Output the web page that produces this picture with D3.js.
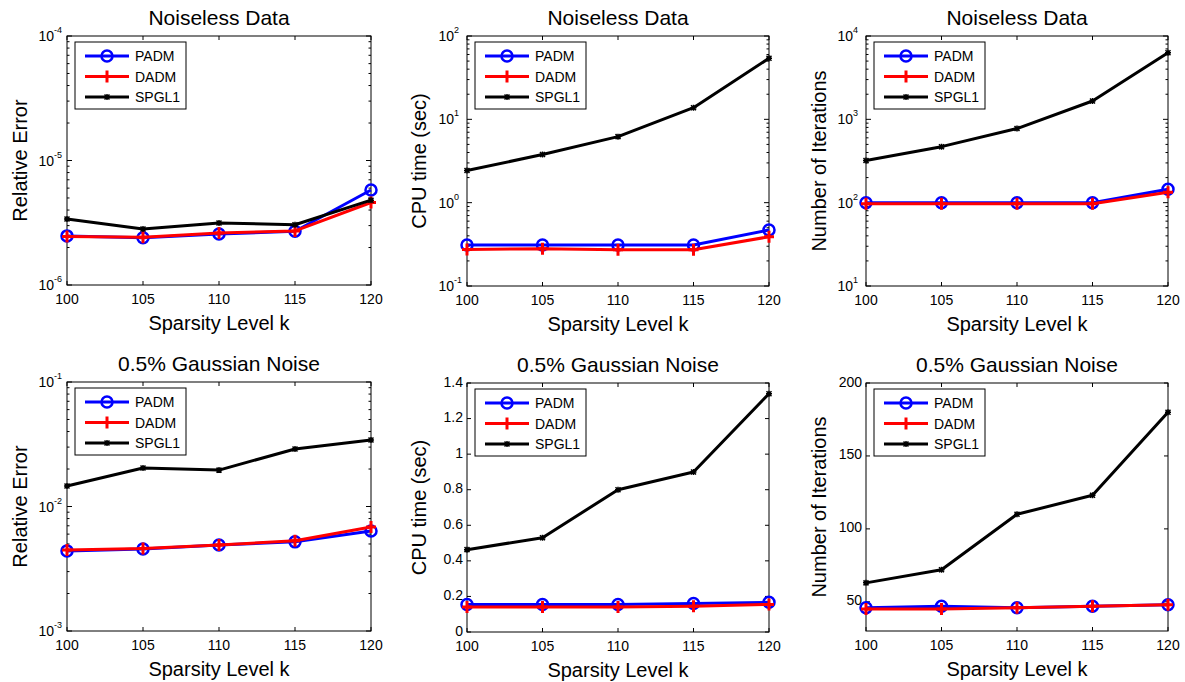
<!DOCTYPE html>
<html>
<head>
<meta charset="utf-8">
<script src="https://cdn.jsdelivr.net/npm/d3@7.9.0/dist/d3.min.js"></script>
<style>
  body { margin: 0; background: #fff; }
  svg { font-family: "Liberation Sans", Arial, sans-serif; }
</style>
</head>
<body>
<svg id="chart" width="1185" height="682"></svg>
<script>
const sparsity = [100, 105, 110, 115, 120];
const seriesNames = ['PADM', 'DADM', 'SPGL1'];

// noiseless data
const errPadmClean = [2.48e-6, 2.4e-6, 2.57e-6, 2.7e-6, 5.8e-6];
const errDadmClean = [2.45e-6, 2.42e-6, 2.62e-6, 2.72e-6, 4.6e-6];
const errSpglClean = [3.39e-6, 2.82e-6, 3.15e-6, 3.05e-6, 4.8e-6];

const cpuPadmClean = [0.31, 0.31, 0.31, 0.31, 0.47];
const cpuDadmClean = [0.275, 0.28, 0.272, 0.272, 0.39];
const cpuSpglClean = [2.43, 3.78, 6.2, 13.8, 54];

const iterPadmClean = [100, 100, 100, 100, 145];
const iterDadmClean = [97, 97, 97, 97, 133];
const iterSpglClean = [320, 470, 775, 1660, 6300];

// 0.5% gaussian noise
const errPadmNoise = [0.0044, 0.00456, 0.0049, 0.0052, 0.00635];
const errDadmNoise = [0.00447, 0.0046, 0.0049, 0.0053, 0.00684];
const errSpglNoise = [0.0146, 0.0204, 0.0196, 0.029, 0.0342];

const cpuPadmNoise = [0.155, 0.155, 0.155, 0.16, 0.167];
const cpuDadmNoise = [0.14, 0.14, 0.14, 0.145, 0.155];
const cpuSpglNoise = [0.463, 0.53, 0.8, 0.9, 1.34];

const iterPadmNoise = [46, 47, 46, 47, 48];
const iterDadmNoise = [45, 45, 46, 47, 48];
const iterSpglNoise = [63, 72, 110, 123, 180];

const colors = { PADM: '#0000ff', DADM: '#ff0000', SPGL1: '#000000' };

const panels = [
  { x0: 67, y0: 36, w: 304, h: 249, title: 'Noiseless Data', ylabel: 'Relative Error', log: true, domain: [1e-6, 1e-4],
    series: [errPadmClean, errDadmClean, errSpglClean], labelX: 20 },
  { x0: 467, y0: 36, w: 302, h: 250, title: 'Noiseless Data', ylabel: 'CPU time (sec)', log: true, domain: [0.1, 100],
    series: [cpuPadmClean, cpuDadmClean, cpuSpglClean], labelX: 419 },
  { x0: 866, y0: 36, w: 302, h: 250, title: 'Noiseless Data', ylabel: 'Number of Iterations', log: true, domain: [10, 1e4],
    series: [iterPadmClean, iterDadmClean, iterSpglClean], labelX: 819 },
  { x0: 67, y0: 382, w: 304, h: 249, title: '0.5% Gaussian Noise', ylabel: 'Relative Error', log: true, domain: [1e-3, 1e-1],
    series: [errPadmNoise, errDadmNoise, errSpglNoise], labelX: 20 },
  { x0: 467, y0: 383, w: 302, h: 249, title: '0.5% Gaussian Noise', ylabel: 'CPU time (sec)', log: false, domain: [0, 1.4],
    ticks: [0, 0.2, 0.4, 0.6, 0.8, 1, 1.2, 1.4], series: [cpuPadmNoise, cpuDadmNoise, cpuSpglNoise], labelX: 419 },
  { x0: 866, y0: 383, w: 302, h: 248, title: '0.5% Gaussian Noise', ylabel: 'Number of Iterations', log: false, domain: [30, 200],
    ticks: [50, 100, 150, 200], series: [iterPadmNoise, iterDadmNoise, iterSpglNoise], labelX: 819 }
];

const svg = d3.select('#chart');

function drawMarker(g, name, cx, cy) {
  if (name === 'PADM') {
    g.append('circle').attr('cx', cx).attr('cy', cy).attr('r', 5.5)
      .attr('fill', 'none').attr('stroke', colors.PADM).attr('stroke-width', 2.5);
  } else if (name === 'DADM') {
    g.append('path').attr('d', `M${cx - 5},${cy}L${cx + 5},${cy}M${cx},${cy - 6}L${cx},${cy + 6}`)
      .attr('stroke', colors.DADM).attr('stroke-width', 3);
  } else {
    g.append('path').attr('d', `M${cx - 3},${cy}L${cx + 3},${cy}M${cx},${cy - 3}L${cx},${cy + 3}M${cx - 2.5},${cy - 2.5}L${cx + 2.5},${cy + 2.5}M${cx - 2.5},${cy + 2.5}L${cx + 2.5},${cy - 2.5}`)
      .attr('stroke', '#000').attr('stroke-width', 1.5);
  }
}

panels.forEach(p => {
  const g = svg.append('g');
  const x = d3.scaleLinear().domain([100, 120]).range([p.x0, p.x0 + p.w]);
  const y = (p.log ? d3.scaleLog() : d3.scaleLinear()).domain(p.domain).range([p.y0 + p.h, p.y0]);

  // box
  g.append('rect').attr('x', p.x0).attr('y', p.y0).attr('width', p.w).attr('height', p.h)
    .attr('fill', '#fff').attr('stroke', '#000').attr('stroke-width', 1);

  // x ticks (inside, bottom and top)
  sparsity.forEach(v => {
    const xx = x(v);
    g.append('line').attr('x1', xx).attr('x2', xx).attr('y1', p.y0 + p.h).attr('y2', p.y0 + p.h - 4).attr('stroke', '#000');
    g.append('line').attr('x1', xx).attr('x2', xx).attr('y1', p.y0).attr('y2', p.y0 + 4).attr('stroke', '#000');
    g.append('text').attr('x', xx).attr('y', p.y0 + p.h + 19).attr('text-anchor', 'middle')
      .attr('font-size', 14).text(v);
  });

  // y ticks
  if (p.log) {
    const lo = Math.round(Math.log10(p.domain[0]));
    const hi = Math.round(Math.log10(p.domain[1]));
    for (let e = lo; e <= hi; e++) {
      const yy = y(Math.pow(10, e));
      [[p.x0, p.x0 + 5], [p.x0 + p.w, p.x0 + p.w - 5]].forEach(([a, b]) =>
        g.append('line').attr('x1', a).attr('x2', b).attr('y1', yy).attr('y2', yy).attr('stroke', '#000'));
      g.append('text').attr('x', p.x0 - 13).attr('y', yy + 5).attr('text-anchor', 'end').attr('font-size', 14).text('10');
      g.append('text').attr('x', p.x0 - 13).attr('y', yy - 3).attr('font-size', 9).text(e);
      if (e < hi) {
        for (let m = 2; m <= 9; m++) {
          const ym = y(m * Math.pow(10, e));
          [[p.x0, p.x0 + 2.5], [p.x0 + p.w, p.x0 + p.w - 2.5]].forEach(([a, b]) =>
            g.append('line').attr('x1', a).attr('x2', b).attr('y1', ym).attr('y2', ym).attr('stroke', '#000'));
        }
      }
    }
  } else {
    p.ticks.forEach(v => {
      const yy = y(v);
      [[p.x0, p.x0 + 4], [p.x0 + p.w, p.x0 + p.w - 4]].forEach(([a, b]) =>
        g.append('line').attr('x1', a).attr('x2', b).attr('y1', yy).attr('y2', yy).attr('stroke', '#000'));
      g.append('text').attr('x', p.x0 - 4).attr('y', yy + 3.5).attr('text-anchor', 'end')
        .attr('font-size', 14).text(String(v));
    });
  }

  // lines
  const line = d3.line().x((d, i) => x(sparsity[i])).y(d => y(d));
  seriesNames.forEach((name, si) => {
    const vals = p.series[si];
    g.append('path').datum(vals).attr('d', line).attr('fill', 'none')
      .attr('stroke', colors[name]).attr('stroke-width', 3).attr('stroke-linejoin', 'round');
    vals.forEach((v, i) => drawMarker(g, name, x(sparsity[i]), y(v)));
  });

  // legend
  const lx = p.x0 + 8, ly = p.y0 + 6;
  g.append('rect').attr('x', lx).attr('y', ly).attr('width', 111).attr('height', 67)
    .attr('fill', '#fff').attr('stroke', '#000').attr('stroke-width', 1);
  seriesNames.forEach((name, i) => {
    const yy = ly + 14 + i * 20.5;
    g.append('line').attr('x1', lx + 10).attr('x2', lx + 54).attr('y1', yy).attr('y2', yy)
      .attr('stroke', colors[name]).attr('stroke-width', 3);
    drawMarker(g, name, lx + 32, yy);
    g.append('text').attr('x', lx + 60).attr('y', yy + 5).attr('font-size', 14).text(name);
  });

  // titles and labels
  g.append('text').attr('x', p.x0 + p.w / 2).attr('y', p.y0 - 11).attr('text-anchor', 'middle')
    .attr('font-size', 21).text(p.title);
  g.append('text').attr('x', p.x0 + p.w / 2).attr('y', p.y0 + p.h + 45).attr('text-anchor', 'middle')
    .attr('font-size', 20).text('Sparsity Level k');
  g.append('text').attr('transform', `translate(${p.labelX},${p.y0 + p.h / 2}) rotate(-90)`)
    .attr('text-anchor', 'middle').attr('dy', '0.35em').attr('font-size', 20).text(p.ylabel);
});
</script>
</body>
</html>
